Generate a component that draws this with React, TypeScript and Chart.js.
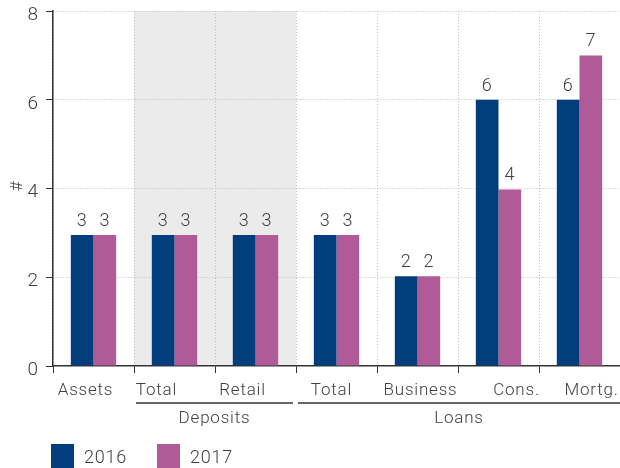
import React, { useEffect, useRef } from "react";
import { Chart, registerables } from "chart.js";

Chart.register(...registerables);

const categories = ["Assets", "Total", "Retail", "Total", "Business", "Cons.", "Mortg."];
const values2016 = [2.95, 2.95, 2.95, 2.95, 2.02, 6.0, 6.0];
const values2017 = [2.95, 2.95, 2.95, 2.95, 2.02, 3.98, 7.0];
const labels2016 = ["3", "3", "3", "3", "2", "6", "6"];
const labels2017 = ["3", "3", "3", "3", "2", "4", "7"];
const seriesNames = ["2016", "2017"];
const groups = [
  { name: "Deposits", from: 1, to: 2 },
  { name: "Loans", from: 3, to: 6 },
];
const shadedGroup = { from: 1, to: 2 };
const yTicks = [0, 2, 4, 6, 8];
// layout: horizontal shift of each category label from its category centre (px)
const labelShift = [-8, -18, -13, -5, 3, 18, 12];

const BLUE = "#023e7c";
const PINK = "#b05a97";
const TEXT = "#404040";
const FONT = "Roboto, 'Open Sans', sans-serif";
const FS = 17;
const FW = 300;
const LS = "0.8px";

export default function App() {
  const ref = useRef<HTMLCanvasElement | null>(null);
  useEffect(() => {
    document.body.style.margin = "0";
    const canvas = ref.current!;
    const extras = {
      id: "extras",
      beforeDraw(chart: any) {
        const { ctx, chartArea, scales } = chart;
        const x = scales.x;
        const half = (x.getPixelForValue(1) - x.getPixelForValue(0)) / 2;
        const l = x.getPixelForValue(shadedGroup.from) - half;
        const r = x.getPixelForValue(shadedGroup.to) + half;
        ctx.save();
        ctx.fillStyle = "#ebebeb";
        ctx.fillRect(l, chartArea.top, r - l, chartArea.bottom - chartArea.top);
        ctx.restore();
      },
      afterDraw(chart: any) {
        const { ctx, chartArea, scales } = chart;
        const x = scales.x;
        const half = (x.getPixelForValue(1) - x.getPixelForValue(0)) / 2;
        ctx.save();
        ctx.font = `${FW} ${FS}px ${FONT}`;
        (ctx as any).letterSpacing = LS;
        ctx.fillStyle = TEXT;
        ctx.textAlign = "center";
        ctx.textBaseline = "alphabetic";
        // data labels
        ctx.font = `${FW} 18px ${FONT}`;
        [0, 1].forEach((di) => {
          const meta = chart.getDatasetMeta(di);
          const labs = di === 0 ? labels2016 : labels2017;
          meta.data.forEach((bar: any, i: number) => {
            ctx.fillText(labs[i], bar.x, bar.y - 9);
          });
        });
        ctx.font = `${FW} ${FS}px ${FONT}`;
        // category labels
        categories.forEach((c, i) => {
          ctx.fillText(c, x.getPixelForValue(i) + labelShift[i], chartArea.bottom + 29);
        });
        // group lines and labels
        const lineY = chartArea.bottom + 37;
        groups.forEach((g, gi) => {
          const l = x.getPixelForValue(g.from) - half + 2;
          const r = Math.min(x.getPixelForValue(g.to) + half - (gi === groups.length - 1 ? 0 : 3), chart.width);
          ctx.strokeStyle = "#333";
          ctx.lineWidth = 1.5;
          ctx.beginPath();
          ctx.moveTo(l, lineY);
          ctx.lineTo(r, lineY);
          ctx.stroke();
          ctx.fillText(g.name, (l + r) / 2, lineY + 20);
        });
        // y title
        ctx.save();
        ctx.translate(18, 186);
        ctx.rotate(-Math.PI / 2);
        ctx.font = `${FW} 17px ${FONT}`;
        ctx.textBaseline = "middle";
        ctx.fillText("#", 0, 0);
        ctx.restore();
        // legend
        const ly = 444;
        const items = [
          { name: seriesNames[0], color: BLUE, x: 51 },
          { name: seriesNames[1], color: PINK, x: 157 },
        ];
        ctx.textAlign = "left";
        ctx.font = `${FW} 18px ${FONT}`;
        items.forEach((it) => {
          ctx.fillStyle = it.color;
          ctx.fillRect(it.x, ly, 23, 24);
          ctx.fillStyle = TEXT;
          ctx.fillText(it.name, it.x + 33, ly + 19);
        });
        ctx.restore();
      },
    };
    const chart = new Chart(canvas, {
      type: "bar",
      data: {
        labels: categories,
        datasets: [
          { label: seriesNames[0], data: values2016, backgroundColor: BLUE, categoryPercentage: 0.56, barPercentage: 1.0 },
          { label: seriesNames[1], data: values2017, backgroundColor: PINK, categoryPercentage: 0.56, barPercentage: 1.0 },
        ],
      },
      options: {
        animation: false,
        responsive: false,
        devicePixelRatio: 1,
        layout: { padding: { top: 11, right: 0, left: 0, bottom: 0 } },
        plugins: { legend: { display: false }, tooltip: { enabled: false } },
        scales: {
          x: {
            grid: {
              offset: true,
              color: "#bdbdbd",
              tickColor: "#333",
              tickBorderDash: [],
              tickLength: 7,
              lineWidth: 1,
            },
            border: { display: true, color: "#333", width: 1.5, dash: [1, 2] },
            ticks: { display: false },
            afterFit(scale: any) {
              scale.height = 102;
            },
          },
          y: {
            min: 0,
            max: 8,
            afterBuildTicks(scale: any) {
              scale.ticks = yTicks.map((v) => ({ value: v }));
            },
            grid: {
              color: (c: any) => (c.tick && c.tick.value === 0 ? "rgba(0,0,0,0)" : "#bdbdbd"),
              tickColor: "#333",
              tickBorderDash: [],
              tickLength: 7,
            },
            border: { display: true, color: "#333", width: 1.5, dash: [1, 2] },
            ticks: { color: TEXT, font: { family: FONT, size: 19, weight: "300" }, padding: 8, labelOffset: 4 },
            afterFit(scale: any) {
              scale.width = 53;
              scale.paddingTop = 0;
              scale.paddingBottom = 0;
            },
          },
        },
      },
      plugins: [extras],
    } as any);
    return () => chart.destroy();
  }, []);
  return <canvas ref={ref} width={620} height={468} style={{ display: "block" }} />;
}
